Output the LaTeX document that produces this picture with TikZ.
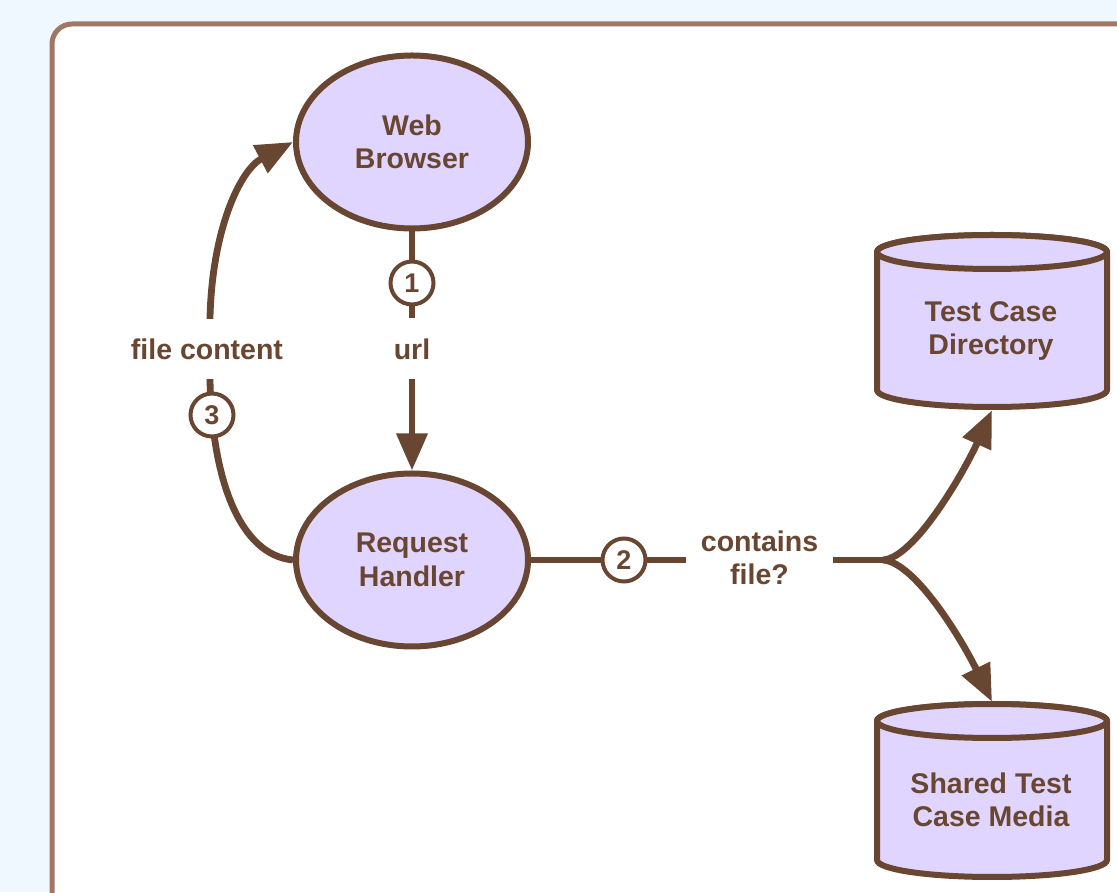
\documentclass[tikz,border=0pt]{standalone}
\usepackage{fontspec}
\setmainfont{Liberation Sans}
\usetikzlibrary{arrows.meta,shapes.geometric}

\definecolor{linebrown}{HTML}{694631}
\definecolor{framebrown}{HTML}{A07764}
\definecolor{nodefill}{HTML}{E0D5FF}
\definecolor{pagebg}{HTML}{F0F8FF}

% storage drum: #1 centre x, #2 centre y of the top cap, #3 centre y of the bottom arc
\newcommand\drawdrum[3]{%
  \filldraw[drum] (#1-115,#2) -- (#1-115,#3)
    arc[start angle=180,end angle=360,x radius=115,y radius=17]
    -- (#1+115,#2)
    arc[start angle=0,end angle=180,x radius=115,y radius=17] -- cycle;
  \draw[drum] (#1,#2) ellipse[x radius=115,y radius=17];}

\begin{document}
\begin{tikzpicture}[x=1pt,y=1pt,
  labelfont/.style={font=\bfseries\fontsize{28.5}{33.5}\selectfont, text=linebrown},
  flow/.style={draw=linebrown, line width=6.8pt, -{Triangle[length=37pt,width=30pt]}},
  plainflow/.style={draw=linebrown, line width=6.8pt, line cap=round},
  proc/.style={ellipse, draw=linebrown, fill=nodefill, line width=6pt,
    minimum width=232pt, minimum height=173pt, inner sep=0pt, align=center, labelfont},
  stepno/.style={circle, draw=linebrown, fill=white, line width=4pt,
    minimum size=43pt, inner sep=0pt, text=linebrown,
    font=\bfseries\fontsize{27}{27}\selectfont},
  flowlabel/.style={fill=white, inner sep=0pt, align=center, labelfont},
  drum/.style={draw=linebrown, fill=nodefill, line width=6pt, line join=round},
  drumbox/.style={rectangle, inner sep=0pt, minimum width=236pt},
  drumtext/.style={align=center, inner sep=0pt, labelfont}
]
\useasboundingbox (0,0) rectangle (1117,892);
\clip (0,0) rectangle (1117,892);

% page and panel
\fill[pagebg] (0,0) rectangle (1117,892);
\draw[framebrown, line width=5pt, fill=white, rounded corners=20pt]
  (52,-40) rectangle (1160,868);

% processes
\node[proc] (wb) at (412,750) {Web\\Browser};
\node[proc] (rh) at (412,332) {Request\\Handler};

% data stores
\drawdrum{992}{640}{502}
\node[drumbox, minimum height=178pt] (tcd) at (992,571) {};
\node[drumtext] (tcdtext) at (991,561) {Test Case\\Directory};

\drawdrum{992}{171}{32}
\node[drumbox, minimum height=178pt] (scm) at (992,101) {};
\node[drumtext] (scmtext) at (991,92) {Shared Test\\Case Media};

% 1: url request
\draw[flow] (wb.south) -- (rh.north);
\node[flowlabel, minimum height=61pt] (urllab) at (412,543) {url};
\node[stepno] (s1) at (412,609) {1};

% 3: file content back to the browser
\draw[flow] (rh.west) .. controls (240,337) and (212,412) .. (210,512)
  -- (210,574) .. controls (212,662) and (240,722) .. (wb.west);
\node[flowlabel, minimum height=60pt] (fclab) at (207,543) {file content};
\node[stepno] (s3) at (212,477) {3};

% 2: lookup in the stores
\coordinate (fork) at (883,332);
\draw[plainflow] (rh.east) -- (fork);
\draw[flow] (fork) .. controls (915,334) and (965,422) .. (tcd.south);
\draw[flow] (fork) .. controls (915,330) and (962,252) .. (scm.north);
\node[flowlabel, minimum width=147pt, minimum height=20pt] (cflab) at (759.5,334) {contains\\file?};
\node[stepno] (s2) at (624,332) {2};
\end{tikzpicture}
\end{document}
